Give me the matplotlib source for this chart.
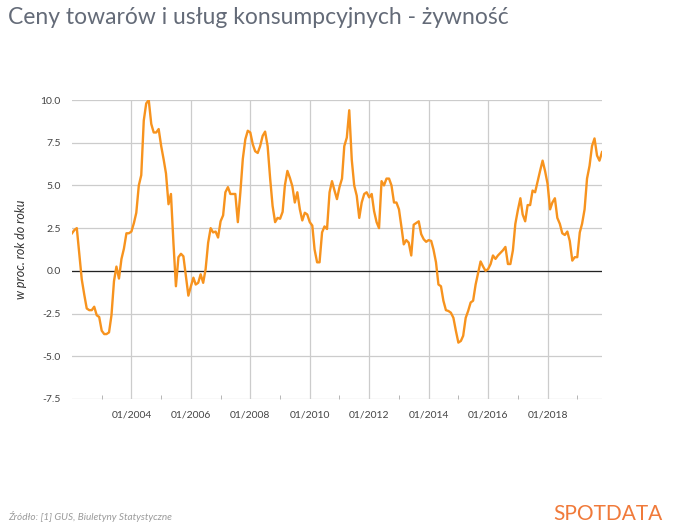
import pandas as pd
import matplotlib
matplotlib.use("Agg")
import matplotlib.pyplot as plt
import matplotlib.dates as mdates

# CPI food, % y/y, monthly 01/2002 - 11/2019
y2002 = [2.2, 2.4, 2.5, 1.0, -0.5, -1.4, -2.2, -2.3, -2.3, -2.1, -2.6, -2.7]
y2003 = [-3.5, -3.7, -3.7, -3.6, -2.6, -0.6, 0.25, -0.45, 0.7, 1.3, 2.2, 2.2]
y2004 = [2.3, 2.8, 3.4, 5.0, 5.6, 8.8, 9.8, 10.0, 8.6, 8.1, 8.1, 8.3]
y2005 = [7.3, 6.5, 5.7, 3.9, 4.5, 1.6, -0.9, 0.8, 1.0, 0.85, -0.3, -1.45]
y2006 = [-0.9, -0.4, -0.8, -0.7, -0.2, -0.7, 0.1, 1.65, 2.5, 2.25, 2.3, 1.95]
y2007 = [2.9, 3.25, 4.6, 4.9, 4.5, 4.5, 4.5, 2.85, 4.6, 6.55, 7.7, 8.2]
y2008 = [8.1, 7.4, 7.0, 6.9, 7.3, 7.9, 8.15, 7.3, 5.4, 3.8, 2.85, 3.1]
y2009 = [3.05, 3.45, 5.0, 5.85, 5.45, 4.95, 4.0, 4.6, 3.6, 2.95, 3.4, 3.3]
y2010 = [2.85, 2.65, 1.25, 0.5, 0.5, 2.25, 2.6, 2.45, 4.6, 5.25, 4.7, 4.2]
y2011 = [4.9, 5.4, 7.3, 7.8, 9.4, 6.5, 5.0, 4.4, 3.1, 4.0, 4.5, 4.6]
y2012 = [4.3, 4.5, 3.5, 2.85, 2.5, 5.25, 5.0, 5.4, 5.4, 5.0, 4.0, 4.0]
y2013 = [3.6, 2.55, 1.55, 1.8, 1.65, 0.9, 2.7, 2.8, 2.9, 2.15, 1.85, 1.7]
y2014 = [1.8, 1.75, 1.25, 0.5, -0.8, -0.9, -1.75, -2.3, -2.35, -2.45, -2.75, -3.5]
y2015 = [-4.2, -4.1, -3.8, -2.75, -2.35, -1.85, -1.75, -0.8, -0.1, 0.55, 0.25, 0.0]
y2016 = [0.1, 0.4, 0.9, 0.7, 0.9, 1.05, 1.2, 1.4, 0.4, 0.4, 1.2, 2.75]
y2017 = [3.55, 4.25, 3.3, 2.9, 3.85, 3.85, 4.7, 4.6, 5.25, 5.85, 6.45, 5.85]
y2018 = [5.1, 3.6, 4.0, 4.25, 3.1, 2.75, 2.2, 2.1, 2.3, 1.75, 0.6, 0.8]
y2019 = [0.8, 2.25, 2.75, 3.6, 5.4, 6.15, 7.3, 7.75, 6.75, 6.45, 6.95]

values = (y2002 + y2003 + y2004 + y2005 + y2006 + y2007 + y2008 + y2009 + y2010
          + y2011 + y2012 + y2013 + y2014 + y2015 + y2016 + y2017 + y2018 + y2019)
dates = pd.date_range("2002-01-01", periods=len(values), freq="MS")
yticks = [-7.5, -5.0, -2.5, 0.0, 2.5, 5.0, 7.5, 10.0]
major_years = [2004, 2006, 2008, 2010, 2012, 2014, 2016, 2018]
minor_years = [2003, 2005, 2007, 2009, 2011, 2013, 2015, 2017, 2019]

title = "Ceny towarów i usług konsumpcyjnych - żywność"
source = "Źródło: [1] GUS, Biuletyny Statystyczne"
ylabel = "w proc. rok do roku"

plt.rcParams['font.family'] = ['Lato', 'DejaVu Sans']

fig = plt.figure(figsize=(6.74, 5.29), dpi=100)
ax = fig.add_axes([72 / 674, 1 - 399 / 529, 530 / 674, 299 / 529])

ax.plot(dates, values, color="#f7931e", linewidth=1.7, zorder=3)
ax.axhline(0, color="#222222", linewidth=0.9, zorder=2)

ax.set_xlim(dates[0], dates[-1])
ax.set_ylim(-7.5, 10)
ax.set_yticks(yticks)
ax.set_yticklabels(["%.1f" % v for v in yticks])

ax.set_xticks([pd.Timestamp(y, 1, 1) for y in major_years])
ax.set_xticks([pd.Timestamp(y, 1, 1) for y in minor_years], minor=True)
ax.xaxis.set_major_formatter(mdates.DateFormatter("%m/%Y"))

ax.grid(True, which="major", color="#cccccc", linewidth=0.9, zorder=1)
ax.tick_params(axis="both", which="major", length=0, labelsize=7.5,
               labelcolor="#444444", pad=8)
ax.tick_params(axis="x", which="minor", direction="in", length=3,
               color="#aaaaaa")
for s in ax.spines.values():
    s.set_visible(False)

ax.set_ylabel(ylabel, fontsize=9, style="italic", color="#333333", labelpad=10)

fig.text(8 / 674, 1 - 18 / 529, title, fontsize=16.5, color="#646b78",
         va="center", ha="left")
fig.text(8 / 674, 1 - 517 / 529, source, fontsize=7.2, style="italic",
         color="#9a9a9a", va="center", ha="left")
fig.text(663 / 674, 1 - 514 / 529, "SPOTDATA", fontsize=15, color="#f07a3a",
         va="center", ha="right")

fig.savefig("out.png", dpi=100)
